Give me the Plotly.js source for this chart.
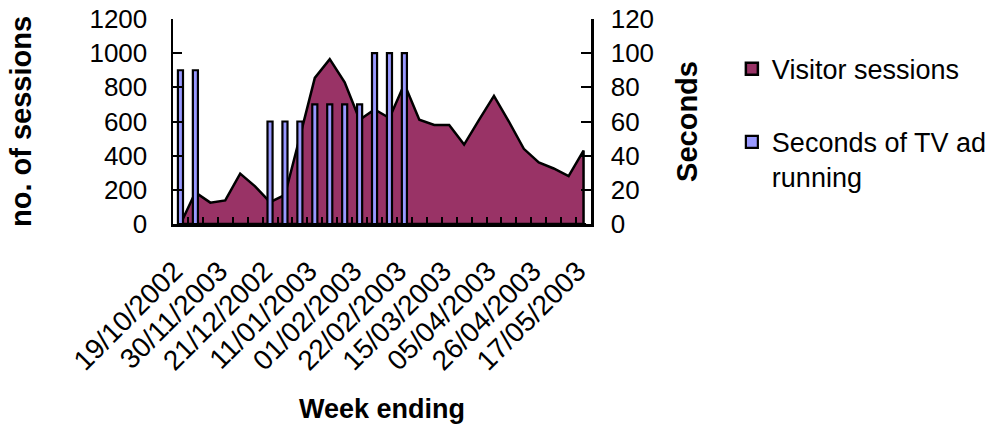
<!DOCTYPE html>
<html>
<head>
<meta charset="utf-8">
<script src="https://cdn.plot.ly/plotly-3.0.1.min.js"></script>
<style>
  html, body { margin: 0; padding: 0; background: #fff; }
  #chart { width: 1004px; height: 426px; }
</style>
</head>
<body>
<div id="chart"></div>
<script>
// Week-ending dates (one category per row of the source sheet)
const weeks = [
  "19/10/2002", "02/11/2002", "16/11/2002", "30/11/2003", "07/12/2002",
  "14/12/2002", "21/12/2002", "28/12/2002", "04/01/2003", "11/01/2003",
  "18/01/2003", "25/01/2003", "01/02/2003", "08/02/2003", "15/02/2003",
  "22/02/2003", "01/03/2003", "08/03/2003", "15/03/2003", "22/03/2003",
  "29/03/2003", "05/04/2003", "12/04/2003", "19/04/2003", "26/04/2003",
  "03/05/2003", "10/05/2003", "17/05/2003"
];

// Visitor sessions per week
const sessions = [
  0, 185, 125, 138, 295, 220, 128, 170, 510, 855,
  965, 830, 610, 670, 620, 820, 610, 580, 580, 465,
  610, 750, 600, 440, 360, 325, 280, 430
];

// Seconds of TV advertising running per week
const tvSeconds = [
  90, 90, 0, 0, 0, 0, 60, 60, 60, 70,
  70, 70, 70, 100, 100, 100, 0, 0, 0, 0,
  0, 0, 0, 0, 0, 0, 0, 0
];

// Only every third week carries a visible label
const labelStep = 3;
const tickText = weeks.map((w, i) => (i % labelStep === 0 ? w : ""));

const FONT = "Liberation Sans, Arial, sans-serif";
const MAROON = "#993366";
const LILAC = "#9999FF";

// Close the area polygon down to the baseline so its outline runs round the right edge too
const last = weeks.length - 1;
const areaX = weeks.concat([weeks[last], weeks[0]]);
const areaY = sessions.concat([0, 0]);

const traces = [
  {
    type: "scatter",
    mode: "lines",
    x: areaX,
    y: areaY,
    fill: "toself",
    fillcolor: MAROON,
    line: { color: "#000", width: 2.5, shape: "linear" },
    name: "Visitor sessions",
    showlegend: false,
    hoverinfo: "x+y",
    xaxis: "x",
    yaxis: "y"
  },
  {
    // square legend key for the sessions area (no visible bar)
    type: "bar",
    x: [weeks[0]],
    y: [null],
    name: "Visitor sessions",
    legendgroup: "sessions",
    showlegend: true,
    marker: { color: MAROON, line: { color: "#000", width: 2.5 } },
    xaxis: "x",
    yaxis: "y"
  },
  {
    type: "bar",
    x: weeks,
    y: tvSeconds,
    width: 0.34,
    name: "Seconds of TV ad<br>running",
    legendgroup: "tv",
    marker: { color: LILAC, line: { color: "#000", width: 2.2 } },
    xaxis: "x",
    yaxis: "y2"
  }
];

const layout = {
  width: 1004,
  height: 426,
  margin: { l: 173, r: 410, t: 19, b: 202, pad: 0 },
  paper_bgcolor: "#fff",
  plot_bgcolor: "#fff",
  font: { family: FONT, color: "#000", size: 25 },
  showlegend: true,
  legend: {
    x: 1.337,
    xanchor: "left",
    y: 0.875,
    yanchor: "top",
    font: { family: FONT, size: 27, color: "#000" },
    traceorder: "grouped",
    tracegroupgap: 35,
    valign: "top",
    bgcolor: "rgba(0,0,0,0)"
  },
  xaxis: {
    type: "category",
    categoryorder: "array",
    categoryarray: weeks,
    range: [-0.5, weeks.length - 0.5],
    tickmode: "array",
    tickvals: weeks,
    ticktext: tickText,
    tickangle: -45,
    ticks: "inside",
    tickson: "boundaries",
    ticklen: 7,
    tickwidth: 2,
    tickcolor: "#000",
    ticklabelstandoff: 17,
    ticklabelshift: -6,
    tickfont: { family: FONT, size: 28, color: "#000" },
    showline: true,
    linecolor: "#000",
    linewidth: 2.5,
    showgrid: false,
    zeroline: false,
    fixedrange: true,
    title: {
      text: "<b>Week ending</b>",
      font: { family: FONT, size: 27, color: "#000" },
      standoff: 24
    }
  },
  yaxis: {
    range: [0, 1200],
    tickmode: "linear",
    tick0: 0,
    dtick: 200,
    ticks: "inside",
    ticklen: 9,
    tickwidth: 2,
    tickcolor: "#000",
    ticklabelstandoff: 18,
    tickfont: { family: FONT, size: 26, color: "#000" },
    showline: true,
    linecolor: "#000",
    linewidth: 2.5,
    showgrid: false,
    zeroline: false,
    fixedrange: true,
    title: {
      text: "<b>no. of sessions</b>",
      font: { family: FONT, size: 29, color: "#000" },
      standoff: 50
    }
  },
  yaxis2: {
    overlaying: "y",
    side: "right",
    range: [0, 120],
    tickmode: "linear",
    tick0: 0,
    dtick: 20,
    ticks: "inside",
    ticklen: 10,
    tickwidth: 2,
    tickcolor: "#000",
    ticklabelstandoff: 12,
    tickfont: { family: FONT, size: 26, color: "#000" },
    showline: true,
    linecolor: "#000",
    linewidth: 2.5,
    showgrid: false,
    zeroline: false,
    fixedrange: true,
    title: {
      text: "<b>Seconds</b>",
      font: { family: FONT, size: 29, color: "#000" },
      standoff: 24
    }
  },
  bargap: 0.6
};

Plotly.newPlot("chart", traces, layout, { displayModeBar: false, staticPlot: true });
</script>
</body>
</html>
